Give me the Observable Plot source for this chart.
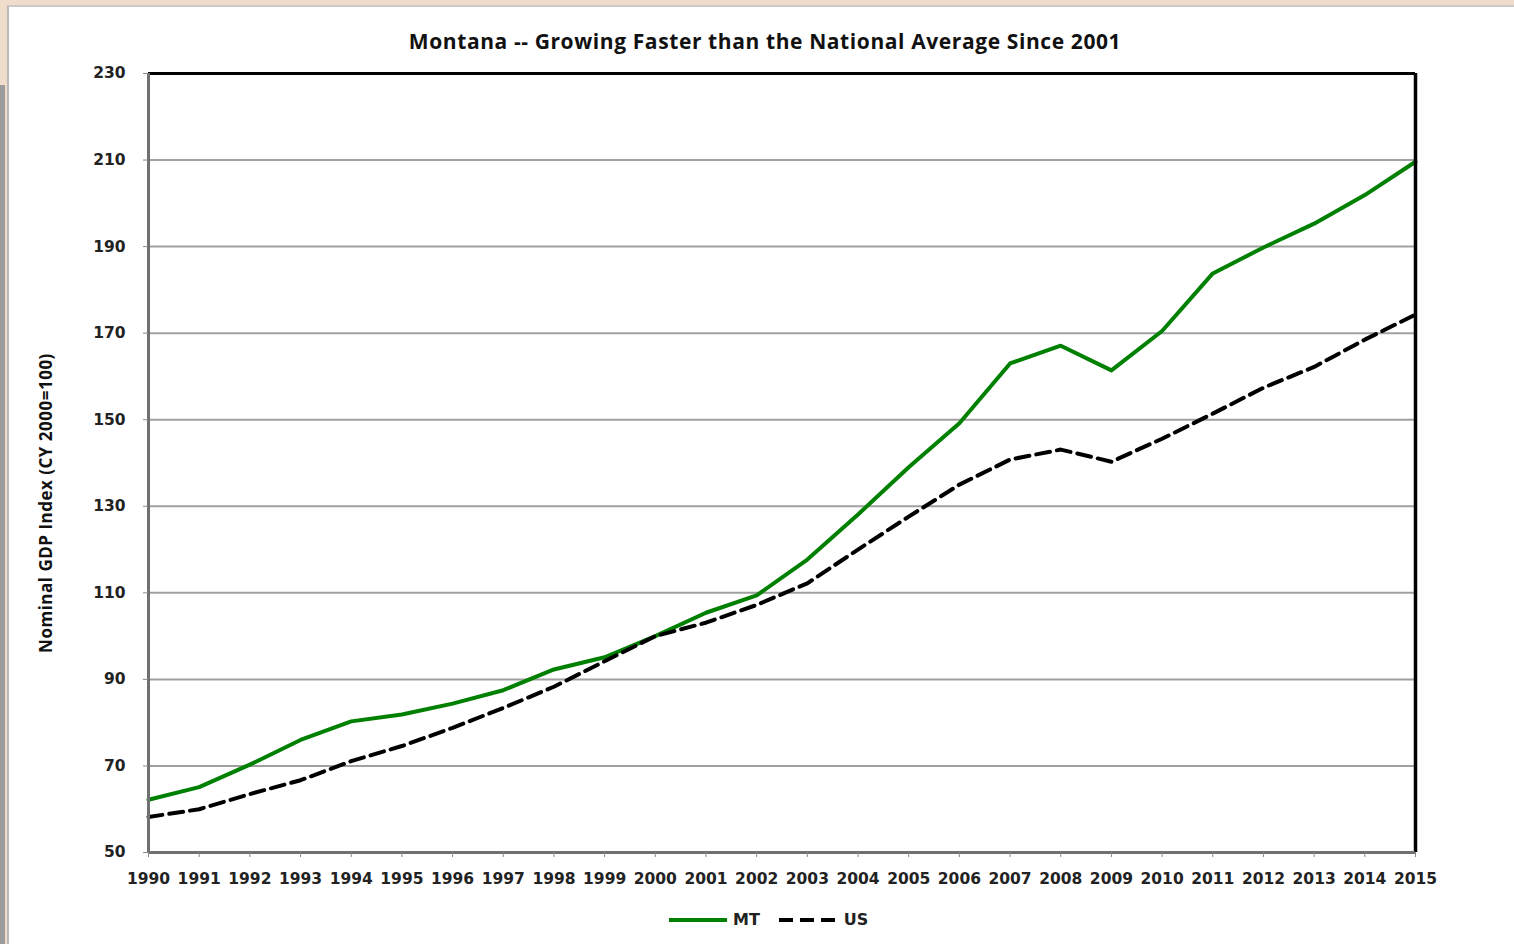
<!DOCTYPE html>
<html>
<head>
<meta charset="utf-8">
<script src="https://cdn.jsdelivr.net/npm/d3@7"></script>
<script src="https://cdn.jsdelivr.net/npm/@observablehq/plot@0.6"></script>
<style>
  html, body { margin: 0; padding: 0; }
  body { width: 1514px; height: 944px; background: #efdccb; position: relative; overflow: hidden; }
  #sheet { position: absolute; left: 7px; top: 5px; right: 0; bottom: 0; background: #fff;
           border-left: 2px solid #b9b9b9; border-top: 2px solid #c9c9c9; }
  #edge { position: absolute; left: 0; top: 85px; width: 5px; bottom: 0; background: #9c9c9c; }
  #title { position: absolute; left: 0; width: 1530px; top: 27px; text-align: center;
           font: 700 21px "Open Sans", Lato, sans-serif; color: #111; letter-spacing: 0.6px; }
  #ytitle { position: absolute; left: 45px; top: 503px; transform: translate(-50%, -50%) rotate(-90deg);
            white-space: nowrap; font: 700 17px "Open Sans", Lato, sans-serif; color: #111; letter-spacing: 0.5px; }
  #chart { position: absolute; left: 0; top: 60px; }
  #legend { position: absolute; top: 910px; left: 668px; display: flex; align-items: center;
            font: 700 16px "DejaVu Sans", Verdana, sans-serif; color: #222; }
  #legend svg { display: block; }
</style>
</head>
<body>
<div id="edge"></div>
<div id="sheet"></div>
<div id="title">Montana -- Growing Faster than the National Average Since 2001</div>
<div id="ytitle">Nominal GDP Index (CY 2000=100)</div>
<div id="chart"></div>
<div id="legend"></div>
<script>
// Nominal GDP index, calendar year 2000 = 100
const years = [1990, 1991, 1992, 1993, 1994, 1995, 1996, 1997, 1998, 1999, 2000, 2001, 2002,
               2003, 2004, 2005, 2006, 2007, 2008, 2009, 2010, 2011, 2012, 2013, 2014, 2015];
const mt = [62.2, 65.1, 70.3, 76.0, 80.3, 81.9, 84.4, 87.5, 92.3, 95.1, 100.0, 105.4, 109.4,
            117.7, 128.1, 139.0, 149.2, 163.0, 167.1, 161.4, 170.5, 183.8, 189.8, 195.3, 201.9, 209.6];
const us = [58.2, 60.0, 63.5, 66.7, 71.1, 74.6, 78.8, 83.4, 88.3, 94.2, 100.0, 103.1, 107.2,
            112.2, 120.0, 127.6, 135.0, 140.8, 143.1, 140.3, 145.6, 151.4, 157.4, 162.2, 168.5, 174.3];
const yTicks = [50, 70, 90, 110, 130, 150, 170, 190, 210, 230];
const seriesNames = ["MT", "US"];
const seriesColors = ["#008000", "#000000"];
const dash = "14,7";

const rows = years.map((year, i) => ({year, mt: mt[i], us: us[i]}));

const tickFont = {fontFamily: "'DejaVu Sans', Verdana, sans-serif", fontWeight: "bold", fontSize: 15.5, fill: "#222"};

const chart = Plot.plot({
  width: 1514,
  height: 840,
  marginLeft: 148,
  marginRight: 99,
  marginTop: 13,
  marginBottom: 48,
  style: {background: "transparent", overflow: "visible"},
  x: {domain: [1990, 2015]},
  y: {domain: [50, 230]},
  marks: [
    Plot.gridY(yTicks.filter(t => t !== 50 && t !== 230), {stroke: "#a0a0a0", strokeOpacity: 1, strokeWidth: 2}),
    Plot.lineY(rows, {x: "year", y: "mt", stroke: seriesColors[0], strokeWidth: 4}),
    Plot.lineY(rows, {x: "year", y: "us", stroke: seriesColors[1], strokeWidth: 4, strokeDasharray: dash}),
    // black frame on top and right, grey axis lines on left and bottom
    Plot.ruleY([230], {stroke: "#000", strokeWidth: 3}),
    Plot.ruleX([2015], {stroke: "#000", strokeWidth: 3.5}),
    Plot.ruleX([1990], {stroke: "#707070", strokeWidth: 3}),
    Plot.ruleY([50], {stroke: "#707070", strokeWidth: 3}),
    Plot.axisY({ticks: yTicks, tickSize: 5, tickPadding: 18, stroke: "#888", tickFormat: d => String(d), label: null, ...tickFont}),
    Plot.axisX({ticks: years, tickSize: 5, tickPadding: 15, stroke: "#888", tickFormat: d => String(d), label: null, ...tickFont})
  ]
});
document.getElementById("chart").append(chart);

// legend: line swatch + series name
const legend = document.getElementById("legend");
seriesNames.forEach((name, i) => {
  const sw = d3.create("svg").attr("width", 60).attr("height", 12);
  sw.append("line").attr("x1", 1).attr("x2", 59).attr("y1", 6).attr("y2", 6)
    .attr("stroke", seriesColors[i]).attr("stroke-width", 4)
    .attr("stroke-dasharray", i === 1 ? dash : null);
  legend.append(sw.node());
  const label = document.createElement("span");
  label.textContent = name;
  label.style.margin = i === 0 ? "0 18px 0 5px" : "0 0 0 6px";
  legend.append(label);
});
</script>
</body>
</html>
